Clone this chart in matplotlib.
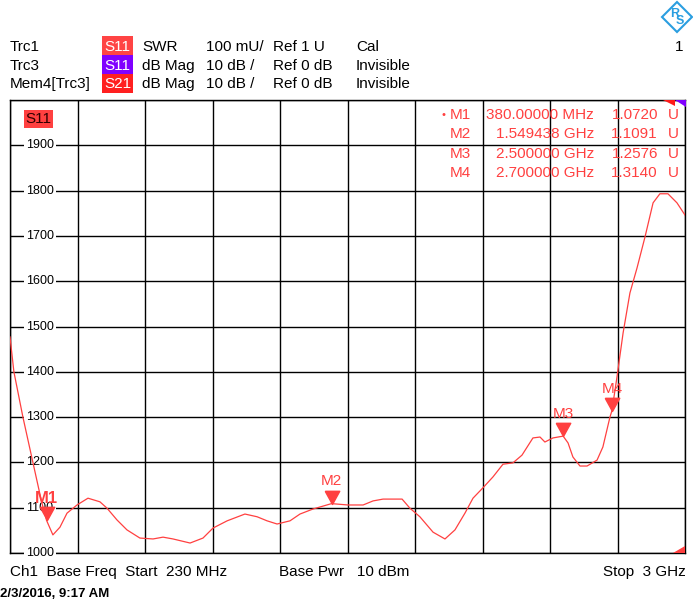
import matplotlib
matplotlib.use("Agg")
import matplotlib.pyplot as plt
from matplotlib.patches import Rectangle, Polygon
from matplotlib.path import Path
import numpy as np

plt.rcParams['font.family'] = ['Liberation Sans', 'DejaVu Sans']

# trace: frequency (MHz) and SWR (mU)
freq = [230, 246, 283, 324, 361, 380, 406, 435, 464, 505, 550, 599, 628, 669, 710,
        763, 817, 858, 899, 969, 1022, 1063, 1121, 1194, 1244, 1285, 1326, 1379,
        1420, 1473, 1549.4, 1617, 1679, 1720, 1761, 1839, 1871, 1912, 1966, 2015,
        2056, 2097, 2130, 2171, 2212, 2253, 2294, 2331, 2376, 2405, 2425, 2458,
        2500, 2520, 2540, 2569, 2598, 2639, 2663, 2692, 2700, 2721, 2746, 2774,
        2803, 2836, 2869, 2897, 2930, 2967, 3000]
swr = [1477, 1400, 1300, 1200, 1110, 1072, 1040, 1057, 1088, 1106, 1121, 1113, 1099,
       1073, 1051, 1033, 1031, 1035, 1031, 1022, 1033, 1055, 1071, 1086, 1080, 1071,
       1064, 1071, 1086, 1097, 1109, 1106, 1106, 1115, 1119, 1119, 1099, 1080, 1046,
       1031, 1051, 1088, 1121, 1144, 1168, 1196, 1199, 1216, 1254, 1256, 1245, 1254,
       1258, 1243, 1212, 1192, 1192, 1205, 1234, 1300, 1314, 1389, 1486, 1574, 1629,
       1698, 1773, 1793, 1793, 1773, 1746]

# markers
mk_names = ['M1', 'M2', 'M3', 'M4']
mk_freq = [380.0, 1549.438, 2500.0, 2700.0]   # MHz
mk_val = [1.0720, 1.1091, 1.2576, 1.3140]     # U

yticks = [1000, 1100, 1200, 1300, 1400, 1500, 1600, 1700, 1800, 1900]

header = [
    ['Trc1', 'S11', 'SWR', '100 mU/', 'Ref 1 U', 'Cal'],
    ['Trc3', 'S11', 'dB Mag', '10 dB /', 'Ref 0 dB', 'Invisible'],
    ['Mem4[Trc3]', 'S21', 'dB Mag', '10 dB /', 'Ref 0 dB', 'Invisible'],
]
badge_colors = ['#ff4444', '#8000ff', '#ff2020']

RED = '#ff4040'
W, H = 693, 611

fig = plt.figure(figsize=(W / 100, H / 100), dpi=100)


def fx(x):
    return x / W


def fy(y):
    return 1 - y / H


def ftext(x, y, s, **kw):
    kw.setdefault('fontsize', 11)
    kw.setdefault('va', 'center')
    fig.text(fx(x), fy(y), s, **kw)


ax = fig.add_axes([fx(10), fy(553), 675 / W, 453 / H])
ax.set_xlim(230, 3000)
ax.set_ylim(1000, 2000)
ax.set_xticks(np.linspace(230, 3000, 11))
ax.set_yticks(np.linspace(1000, 2000, 11))
ax.set_xticklabels([])
ax.set_yticklabels([])
ax.tick_params(length=0)
ax.grid(True, color='black', linewidth=1)
for sp in ax.spines.values():
    sp.set_linewidth(1)

# y labels inside plot
for v in yticks:
    ax.text(30 / 675, v, str(v), transform=ax.get_yaxis_transform(), ha='center',
            va='center', fontsize=9, zorder=2.6,
            bbox=dict(fc='white', ec='none', pad=1.5))

ax.plot(freq, swr, color=RED, linewidth=0.9, zorder=3)

# marker triangles with tip at the trace point
tri = Path([(-0.55, 1), (0.55, 1), (0, 0), (-0.55, 1)])
for i, name in enumerate(mk_names):
    ax.plot(mk_freq[i], mk_val[i] * 1000, marker=tri, markersize=19, color=RED,
            linestyle='none', zorder=4, clip_on=False)
    ax.annotate(name, (mk_freq[i], mk_val[i] * 1000), xytext=(0, 16),
                textcoords='offset points', ha='center', va='center', color=RED,
                fontsize=12 if i == 0 else 11, zorder=5,
                fontweight='bold' if i == 0 else 'normal')

# marker table
for i, name in enumerate(mk_names):
    y = 115 + i * 19.3
    f = mk_freq[i]
    fs = f'{f:.5f} MHz' if f < 1000 else f'{f / 1000:.6f} GHz'
    if i == 0:
        ftext(444, y, '•', color=RED, fontsize=8, ha='center')
    ftext(471, y, name, color=RED, ha='right')
    ftext(594, y, fs, color=RED, ha='right')
    ftext(658, y, f'{mk_val[i]:.4f}', color=RED, ha='right')
    ftext(668, y, 'U', color=RED)

# S11 badge in plot
fig.add_artist(Rectangle((fx(24), fy(128)), 29 / W, 18 / H, transform=fig.transFigure,
                         fc=RED, ec='none', zorder=5))
ftext(38.5, 119, 'S11', color='#300000', ha='center', zorder=6)

# trace indicator triangles
fig.add_artist(Polygon([(fx(663), fy(100)), (fx(675), fy(100)), (fx(675), fy(106))],
                       closed=True, fc='#ff1a1a', ec='none', transform=fig.transFigure))
fig.add_artist(Polygon([(fx(675), fy(100)), (fx(686), fy(100)), (fx(686), fy(107))],
                       closed=True, fc='#8000ff', ec='none', transform=fig.transFigure))
fig.add_artist(Polygon([(fx(673), fy(553)), (fx(685), fy(553)), (fx(685), fy(546))],
                       closed=True, fc=RED, ec='none', transform=fig.transFigure, zorder=6))

# header
cols = [10, 102, 142, 206, 273, 356]
for r, row in enumerate(header):
    y = 47 + r * 18.7
    top = 36 + r * 19
    ftext(cols[0], y, row[0])
    fig.add_artist(Rectangle((fx(102), fy(top + 19)), 31 / W, 19 / H,
                             transform=fig.transFigure, fc=badge_colors[r], ec='none'))
    ftext(117.5, y, row[1], color='white', ha='center')
    for c in range(2, 6):
        ftext(cols[c], y, row[c])
ftext(683, 47, '1', ha='right')

# R&S logo
fig.add_artist(Polygon([(fx(677), fy(2)), (fx(692), fy(17)), (fx(677), fy(32)), (fx(662), fy(17))],
                       closed=True, fc='white', ec='#2a9ee0', lw=1.5,
                       transform=fig.transFigure))
ftext(675, 14, 'R', color='#2a9ee0', fontsize=9, ha='center', fontweight='bold')
ftext(680, 21, 'S', color='#2a9ee0', fontsize=9, ha='center', fontweight='bold')

# footer
ftext(10, 572, 'Ch1  Base Freq  Start  230 MHz')
ftext(279, 572, 'Base Pwr   10 dBm')
ftext(686, 572, 'Stop  3 GHz', ha='right')
ftext(0, 594, '2/3/2016, 9:17 AM', fontsize=9.5, fontweight='bold')

fig.savefig('out.png', dpi=100)
